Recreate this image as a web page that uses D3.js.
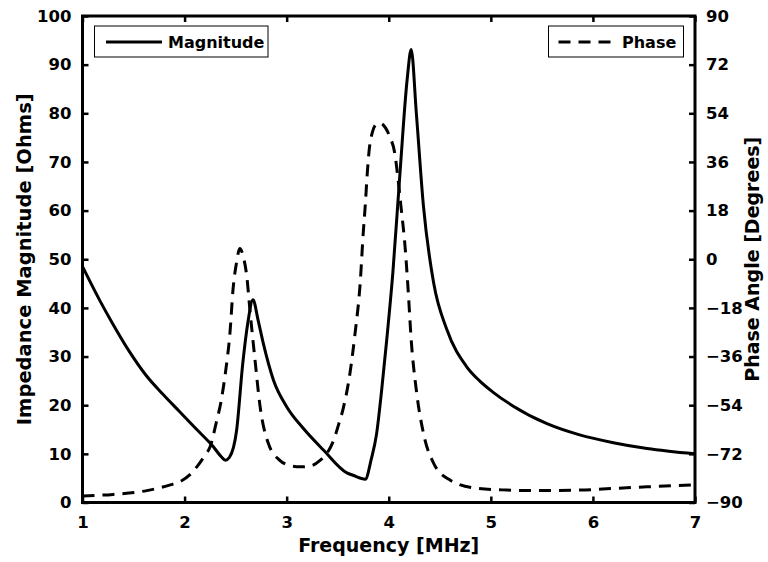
<!DOCTYPE html>
<html>
<head>
<meta charset="utf-8">
<script src="https://cdn.jsdelivr.net/npm/d3@7"></script>
<style>
  html, body { margin: 0; padding: 0; background: #fff; }
  svg text { font-family: "DejaVu Sans", sans-serif; font-weight: bold; fill: #000; }
</style>
</head>
<body>
<svg id="chart" width="768" height="562"></svg>
<script>
// frequency [MHz] and impedance magnitude [Ohms]
var magFreq = [1.0, 1.17, 1.30, 1.46, 1.62, 1.79, 1.95, 2.11, 2.28, 2.36, 2.40, 2.44, 2.51, 2.57, 2.62, 2.67,
               2.72, 2.77, 2.87, 3.0, 3.16, 3.36, 3.59, 3.65, 3.77, 3.83, 3.88, 3.93, 3.98, 4.04, 4.11, 4.18,
               4.22, 4.27, 4.34, 4.44, 4.57, 4.76, 4.89, 5.02, 5.22, 5.55, 5.87, 6.2, 6.53, 7.0];
var magValues = [48.5, 41.5, 36.6, 31.0, 26.2, 22.2, 18.7, 15.2, 11.5, 9.4, 8.7, 9.3, 14.9, 28.6, 37.0, 41.7,
                 37.5, 32.8, 25.2, 19.7, 15.3, 10.8, 6.1, 5.6, 4.8, 9.0, 14.0, 23.0, 33.4, 47.2, 67.7, 86.9,
                 93.1, 80.1, 60.9, 45.1, 35.5, 28.0, 25.0, 22.7, 19.8, 16.2, 13.9, 12.3, 11.1, 10.0];

// frequency [MHz] and phase angle [degrees]
var phaseFreq = [1.0, 1.3, 1.63, 1.86, 1.96, 2.05, 2.12, 2.20, 2.25, 2.31, 2.36, 2.40, 2.445, 2.475, 2.51, 2.54,
                 2.575, 2.61, 2.64, 2.69, 2.74, 2.82, 2.93, 3.03, 3.13, 3.23, 3.33, 3.40, 3.46, 3.51, 3.55, 3.62,
                 3.67, 3.72, 3.75, 3.77, 3.79, 3.81, 3.84, 3.88, 3.92, 3.97, 4.01, 4.06, 4.09, 4.12, 4.16, 4.19,
                 4.22, 4.27, 4.34, 4.44, 4.60, 4.86, 5.16, 5.38, 5.87, 6.2, 6.53, 7.0];
var phaseValues = [-87.6, -87.0, -85.6, -83.5, -82.2, -79.8, -76.8, -72.5, -69.4, -60.5, -52, -42, -27, -11, -1, 4,
                   1, -6.5, -18.8, -37.3, -54.6, -68.1, -74.3, -76.3, -76.8, -76.5, -74.3, -71.5, -67, -61, -55.8, -42.2,
                   -27.4, -8.9, 9.7, 20, 32, 41, 47, 50, 50.3, 48.5, 45.3, 39, 30, 19.4, 4.6, -11.4,
                   -29.9, -48.4, -64.4, -75.5, -81.7, -84.7, -85.4, -85.6, -85.4, -84.8, -84.2, -83.5];

var xTicks = [1, 2, 3, 4, 5, 6, 7];
var leftTicks = [0, 10, 20, 30, 40, 50, 60, 70, 80, 90, 100];
var rightTicks = [-90, -72, -54, -36, -18, 0, 18, 36, 54, 72, 90];

var svg = d3.select("#chart"),
    margin = {top: 16, right: 73, bottom: 59.5, left: 82.5},
    width = +svg.attr("width") - margin.left - margin.right,
    height = +svg.attr("height") - margin.top - margin.bottom,
    g = svg.append("g").attr("transform", "translate(" + margin.left + "," + margin.top + ")");

var x = d3.scaleLinear().domain([1, 7]).range([0, width]);
var yMag = d3.scaleLinear().domain([0, 100]).range([height, 0]);
var yPhase = d3.scaleLinear().domain([-90, 90]).range([height, 0]);

var minus = function(v) { return v < 0 ? "\u2212" + Math.abs(v) : "" + v; };

function styleAxis(sel, fontSize) {
  sel.select(".domain").remove();
  sel.selectAll(".tick line").attr("stroke", "#000").attr("stroke-width", 2.5);
  sel.selectAll(".tick text").style("font-size", fontSize + "px");
}

// bottom and top x axes, ticks pointing inward
g.append("g")
    .attr("transform", "translate(0," + height + ")")
    .call(d3.axisBottom(x).tickValues(xTicks).tickSize(-6).tickPadding(14).tickFormat(d3.format("d")))
    .call(styleAxis, 16.5);
g.append("g")
    .call(d3.axisTop(x).tickValues(xTicks).tickSize(-6).tickFormat(""))
    .call(styleAxis, 16.5);

// left magnitude axis
g.append("g")
    .call(d3.axisLeft(yMag).tickValues(leftTicks).tickSize(-6).tickPadding(11))
    .call(styleAxis, 16.5);

// right phase axis
g.append("g")
    .attr("transform", "translate(" + width + ",0)")
    .call(d3.axisRight(yPhase).tickValues(rightTicks).tickSize(-6).tickPadding(11).tickFormat(minus))
    .call(styleAxis, 16.5);

// frame
g.append("rect")
    .attr("width", width)
    .attr("height", height)
    .attr("fill", "none")
    .attr("stroke", "#000")
    .attr("stroke-width", 3);

var magLine = d3.line()
    .x(function(d, i) { return x(magFreq[i]); })
    .y(function(d) { return yMag(d); })
    .curve(d3.curveMonotoneX);

var phaseLine = d3.line()
    .x(function(d, i) { return x(phaseFreq[i]); })
    .y(function(d) { return yPhase(d); })
    .curve(d3.curveMonotoneX);

g.append("path")
    .datum(phaseValues)
    .attr("d", phaseLine)
    .attr("fill", "none")
    .attr("stroke", "#000")
    .attr("stroke-width", 3)
    .attr("stroke-dasharray", "12,8");

g.append("path")
    .datum(magValues)
    .attr("d", magLine)
    .attr("fill", "none")
    .attr("stroke", "#000")
    .attr("stroke-width", 3)
    .attr("stroke-linejoin", "round");

// axis titles
svg.append("text")
    .attr("x", margin.left + width / 2)
    .attr("y", 552)
    .attr("text-anchor", "middle")
    .style("font-size", "19px")
    .text("Frequency [MHz]");

svg.append("text")
    .attr("transform", "translate(31," + (margin.top + height / 2) + ") rotate(-90)")
    .attr("text-anchor", "middle")
    .style("font-size", "19.5px")
    .text("Impedance Magnitude [Ohms]");

svg.append("text")
    .attr("transform", "translate(759," + (margin.top + height / 2) + ") rotate(-90)")
    .attr("text-anchor", "middle")
    .style("font-size", "19px")
    .text("Phase Angle [Degrees]");

// legends
var legends = [
  {label: "Magnitude", x0: 12, x1: 185.5, dash: null},
  {label: "Phase", x0: 466, x1: 601, dash: "12,8"}
];
legends.forEach(function(l) {
  var lg = g.append("g").attr("transform", "translate(" + l.x0 + ",10)");
  lg.append("rect")
      .attr("width", l.x1 - l.x0)
      .attr("height", 31)
      .attr("fill", "#fff")
      .attr("stroke", "#000")
      .attr("stroke-width", 1);
  var line = lg.append("line")
      .attr("x1", l.label == "Phase" ? 10 : 11.5)
      .attr("x2", l.label == "Phase" ? 67 : 67.5)
      .attr("y1", 16)
      .attr("y2", 16)
      .attr("stroke", "#000")
      .attr("stroke-width", 3);
  if (l.dash) line.attr("stroke-dasharray", l.dash);
  lg.append("text")
      .attr("x", 73.5)
      .attr("y", 22)
      .style("font-size", "16px")
      .text(l.label);
});
</script>
</body>
</html>
